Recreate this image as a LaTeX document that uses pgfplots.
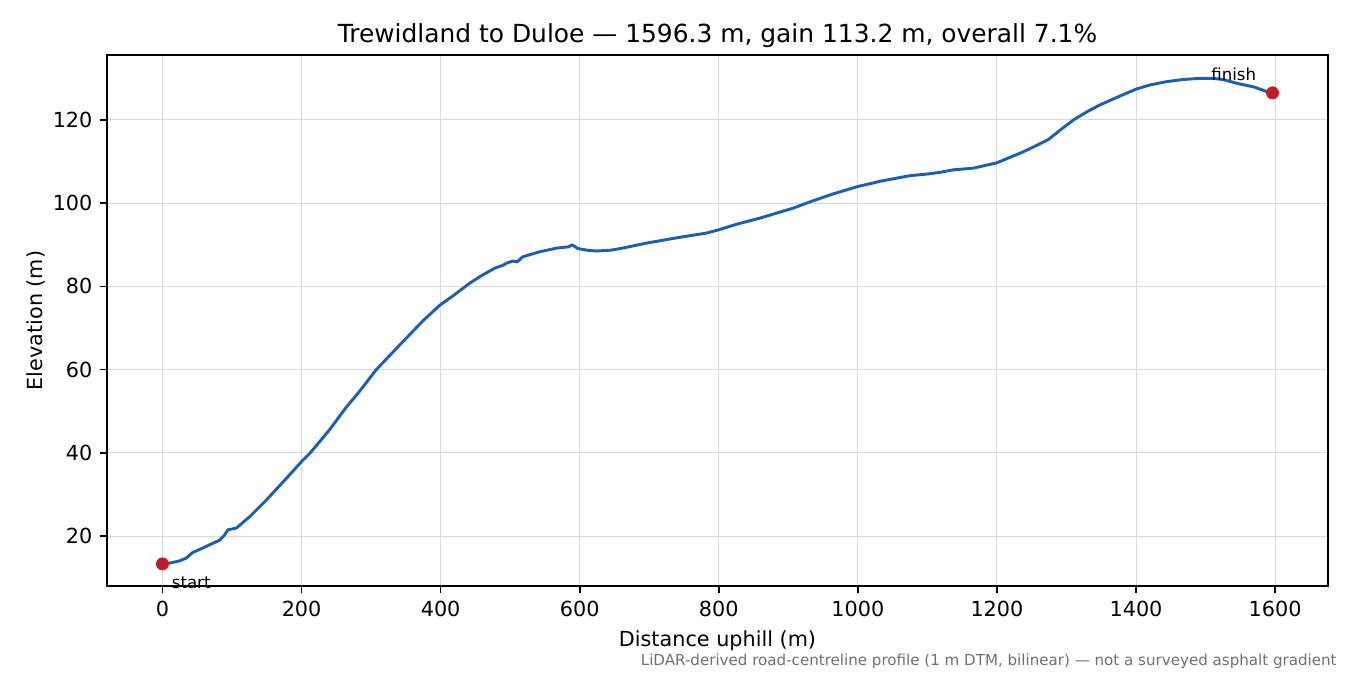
\documentclass[border=0pt]{standalone}
\usepackage{fontspec}
\setmainfont{DejaVu Sans}
\usepackage{pgfplots}
\pgfplotsset{compat=1.18}
\definecolor{lineblue}{HTML}{1A5FB4}
\definecolor{dotred}{HTML}{C01C28}
\definecolor{foot}{HTML}{707070}
\begin{document}
\begin{tikzpicture}
\path[use as bounding box] (-51.36bp,-42.72bp) rectangle (596.64bp,281.28bp);
\begin{axis}[
  at={(0,0)}, anchor=south west,
  scale only axis,
  width=586.08bp, height=254.88bp,
  xmin=-79.8, xmax=1676.1,
  ymin=8.0, ymax=135.6,
  xtick={0,200,...,1600},
  ytick={20,40,...,120},
  xtick pos=bottom, ytick pos=left,
  tick align=outside,
  major tick length=3.5bp,
  tick style={black, line width=0.8bp},
  axis line style={black, line width=0.8bp},
  grid=major,
  major grid style={gray!30, line width=0.5bp},
  /pgf/number format/assume math mode=true,
  /pgf/number format/1000 sep={},
  tick label style={font=\fontsize{10}{12}\selectfont},
  xlabel={Distance uphill (m)},
  ylabel={Elevation (m)},
  ylabel style={yshift=-3.4bp},
  label style={font=\fontsize{10}{12}\selectfont},
  title={Trewidland to Duloe — 1596.3 m, gain 113.2 m, overall 7.1\%},
  title style={font=\fontsize{12}{14}\selectfont, yshift=-5.8bp},
  clip=false,
]
\addplot[lineblue, line width=1.4bp, no marks, line join=round] coordinates {
(0,13.3) (10,13.5) (24,14.0) (34,14.7) (43,16.0) (60,17.3) (82,19.0)
(89,20.2) (94,21.5) (106,21.9) (125,24.6) (149,28.6) (175,33.3) (200,37.9)
(212,39.9) (240,45.5) (264,50.9) (283,54.7) (307,59.9) (341,65.9) (375,71.8)
(399,75.5) (420,78.0) (442,80.8) (460,82.7) (478,84.4) (490,85.1) (495,85.6) (504,86.1) (510,85.9) (518,87.1)
(542,88.3) (567,89.2) (584,89.5) (589,90.0) (597,89.1) (610,88.7) (624,88.5) (645,88.7) (662,89.2)
(696,90.4) (720,91.1) (744,91.8) (782,92.8) (800,93.6) (825,94.9) (859,96.4) (885,97.7) (907,98.8)
(936,100.6) (964,102.2) (1000,104.0) (1036,105.4) (1075,106.6) (1100,107.0) (1118,107.4)
(1137,108.0) (1166,108.4) (1200,109.7) (1236,112.2) (1255,113.7) (1274,115.3) (1292,117.7) (1310,120.0)
(1330,122.0) (1348,123.6) (1375,125.6) (1400,127.4) (1420,128.4) (1444,129.2) (1467,129.7) (1492,130.0) (1510,130.0) (1525,129.7) (1545,128.8)
(1570,127.9) (1588,126.8) (1596.3,126.5)
};
\addplot[only marks, mark=*, mark size=2.9bp, dotred, mark options={draw=dotred, fill=dotred}] coordinates {
(0,13.3) (1596.3,126.5)
};
\node[anchor=base west, font=\fontsize{8}{9.6}\selectfont, inner sep=0pt, xshift=4.3bp, yshift=-12bp] at (axis cs:0,13.3) {start};
\node[anchor=base east, font=\fontsize{8}{9.6}\selectfont, inner sep=0pt, xshift=-7.7bp, yshift=5.8bp] at (axis cs:1596.3,126.5) {finish};
\end{axis}
\node[anchor=base east, font=\fontsize{7.27}{8.7}\selectfont, text=foot, inner sep=0pt] at (590.4bp,-38.2bp) {LiDAR-derived road-centreline profile (1 m DTM, bilinear) — not a surveyed asphalt gradient};
\end{tikzpicture}
\end{document}
